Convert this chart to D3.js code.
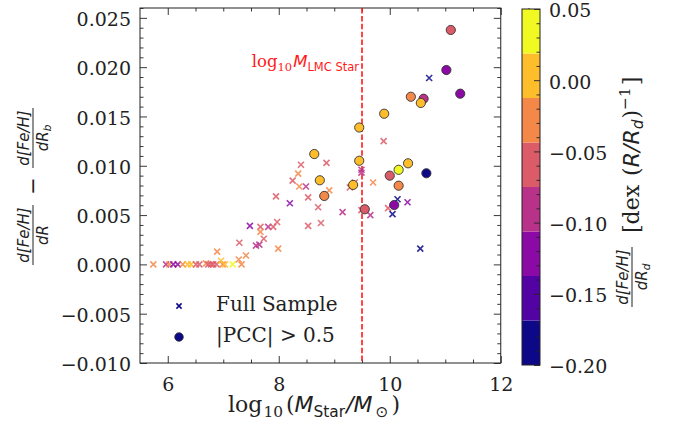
<!DOCTYPE html>
<html><head><meta charset="utf-8">
<script src="https://cdn.jsdelivr.net/npm/d3@7"></script>
<style>body{margin:0;background:#fff}svg{display:block}</style>
</head><body><svg id="c" width="676" height="428"></svg>
<script>
// ---------- data ----------
// Full sample (crosses): stellar mass, gradient difference, colour value d[Fe/H]/dR_d
const sampleMass = [5.74,5.97,6.03,6.10,6.18,6.27,6.36,6.42,6.51,6.57,6.69,6.73,6.78,6.82,6.88,6.99,7.03,7.17,7.33,
  6.89,6.96,7.28,7.41,7.29,7.59,7.65,7.73,7.48,7.67,7.67,7.81,7.90,7.97,7.99,7.95,8.20,8.25,8.37,8.49,8.53,8.71,8.53,8.76,8.91,
  8.40,8.86,8.35,9.49,9.49,9.89,9.37,9.28,9.70,9.15,9.49,9.65,9.97,10.14,10.32,10.05,10.55,10.71];
const sampleDiff = [0,0,0,0,0,0,0,0,0,0,0.0001,0,0,0,0,0,0,0,0,
  0.0013,0.00037,0.0005,0.0009,0.0022,0.0019,0.0020,0.0026,0.0039,0.0038,0.0033,0.0038,0.0038,0.0043,0.0016,0.0069,0.0062,0.0085,0.0079,0.0079,0.0068,0.0058,0.0039,0.0042,0.0075,
  0.0101,0.0103,0.0092,0.0096,0.0093,0.0125,0.0083,0.0078,0.0083,0.0053,0.0055,0.0050,0.0057,0.0066,0.0063,0.0051,0.0016,0.0189];
const sampleGrad = [-0.03,-0.09,-0.03,-0.12,-0.12,-0.03,0.00,0.00,-0.06,-0.06,-0.03,-0.06,-0.06,-0.06,-0.06,-0.03,0.00,0.03,-0.03,
  -0.03,0.00,-0.03,-0.03,-0.06,-0.09,-0.09,-0.06,-0.12,-0.06,-0.03,-0.09,-0.06,-0.06,-0.03,-0.06,-0.12,-0.06,-0.03,-0.09,-0.06,-0.06,-0.06,-0.06,-0.03,
  -0.06,-0.06,-0.03,-0.09,-0.09,-0.06,-0.06,-0.06,-0.03,-0.09,-0.06,-0.09,-0.06,-0.19,-0.12,-0.19,-0.19,-0.19];
// |PCC| > 0.5 (circles)
const pccMass = [8.64,8.74,8.82,9.34,9.45,9.45,9.55,9.90,10.00,10.16,10.33,10.16,10.08,10.66,11.10,11.02,11.27,10.38,10.61,10.56];
const pccDiff = [0.01119,0.00853,0.00694,0.00806,0.01051,0.01388,0.00559,0.01528,0.00900,0.00959,0.01025,0.00798,0.00602,0.00924,0.02377,0.01971,0.01731,0.01700,0.01680,0.01637];
const pccGrad = [0.00,0.00,-0.03,0.00,0.00,0.00,-0.06,0.00,-0.06,0.03,0.00,-0.03,-0.12,-0.19,-0.06,-0.12,-0.12,-0.03,-0.09,0.00];
const lmcMass = 9.5;
const xMajorTicks = [6,8,10,12];
const yMajorTicks = [-0.010,-0.005,0.000,0.005,0.010,0.015,0.020,0.025];
const cbarTicks = [-0.20,-0.15,-0.10,-0.05,0.00,0.05];
const legendLabels = ["Full Sample","|PCC| > 0.5"];

// ---------- layout ----------
const L=140, R=500.75, T=8, B=363;
const svg = d3.select("#c");
const x = d3.scaleLinear().domain([5.5,12]).range([L,R]);
const y = d3.scaleLinear().domain([-0.010,0.026]).range([B,T]);
const nBins = 8;
const col = d3.scaleQuantize().domain([-0.20,0.05]).range(d3.range(nBins).map(i=>d3.interpolatePlasma(i/(nBins-1))));
const SERIF = "'DejaVu Serif', serif", SANS = "'DejaVu Sans', sans-serif";
const ink = "#222";
const minus = s => s.replace("-","\u2212");

const xMinor = d3.range(12,26).map(i=>i/2).filter(v=>!xMajorTicks.includes(v));
const yMinor = d3.range(-10,27).map(i=>i/1000).filter(v=>!yMajorTicks.some(t=>Math.abs(t-v)<1e-9));

function styleAxis(g){
  g.select(".domain").remove();
  g.selectAll(".tick line").attr("stroke",ink).attr("stroke-width",0.9);
  g.selectAll("text").attr("font-family",SERIF).attr("font-size",19).attr("fill",ink);
}
// bottom
svg.append("g").attr("transform",`translate(0,${B})`)
  .call(d3.axisBottom(x).tickValues(xMajorTicks).tickFormat(d3.format("d")).tickSize(-7).tickPadding(14.5))
  .call(styleAxis);
svg.append("g").attr("transform",`translate(0,${B})`)
  .call(d3.axisBottom(x).tickValues(xMinor).tickFormat("").tickSize(-3.5)).call(styleAxis);
// top
svg.append("g").attr("transform",`translate(0,${T})`)
  .call(d3.axisTop(x).tickValues(xMajorTicks).tickFormat("").tickSize(-7)).call(styleAxis);
svg.append("g").attr("transform",`translate(0,${T})`)
  .call(d3.axisTop(x).tickValues(xMinor).tickFormat("").tickSize(-3.5)).call(styleAxis);
// left
svg.append("g").attr("transform",`translate(${L},0)`)
  .call(d3.axisLeft(y).tickValues(yMajorTicks).tickFormat(d=>minus(d3.format(".3f")(d))).tickSize(-7).tickPadding(9))
  .call(styleAxis).call(g=>g.selectAll("text").attr("dy","0.40em"));
svg.append("g").attr("transform",`translate(${L},0)`)
  .call(d3.axisLeft(y).tickValues(yMinor).tickFormat("").tickSize(-3.5)).call(styleAxis);
// right
svg.append("g").attr("transform",`translate(${R},0)`)
  .call(d3.axisRight(y).tickValues(yMajorTicks).tickFormat("").tickSize(-7)).call(styleAxis);
svg.append("g").attr("transform",`translate(${R},0)`)
  .call(d3.axisRight(y).tickValues(yMinor).tickFormat("").tickSize(-3.5)).call(styleAxis);

// frame
svg.append("rect").attr("x",L).attr("y",T).attr("width",R-L).attr("height",B-T)
  .attr("fill","none").attr("stroke",ink).attr("stroke-width",1);

// LMC line
svg.append("line").attr("x1",x(lmcMass)).attr("x2",x(lmcMass)).attr("y1",T).attr("y2",B)
  .attr("stroke","#ff1a1a").attr("stroke-width",1.6).attr("stroke-dasharray","5.5,2.4");
const lt = svg.append("text").attr("x",x(lmcMass)-3).attr("y",67).attr("text-anchor","end")
  .attr("fill","#ff1a1a").attr("font-size",16.5);
lt.append("tspan").attr("font-family",SERIF).text("log");
lt.append("tspan").attr("font-family",SERIF).attr("font-size",11.5).attr("dy",3.5).text("10");
lt.append("tspan").attr("font-family",SANS).attr("font-style","italic").attr("dy",-3.5).attr("dx",1).text("M");
lt.append("tspan").attr("font-family",SANS).attr("font-size",11.5).attr("dy",3.5).text("LMC Star");

// crosses
const sample = sampleMass.map((m,i)=>({m, d:sampleDiff[i], g:sampleGrad[i]}));
const crossPath = "M-3,-3L3,3M-3,3L3,-3";
svg.append("g").selectAll("path").data(sample).join("path")
  .attr("transform",d=>`translate(${x(d.m)},${y(d.d)})`)
  .attr("d",crossPath).attr("fill","none")
  .attr("stroke",d=>col(d.g)).attr("stroke-width",1.6).attr("stroke-opacity",0.85);

// circles
const pcc = pccMass.map((m,i)=>({m, d:pccDiff[i], g:pccGrad[i]}));
svg.append("g").selectAll("circle").data(pcc).join("circle")
  .attr("cx",d=>x(d.m)).attr("cy",d=>y(d.d)).attr("r",4.6)
  .attr("fill",d=>col(d.g)).attr("stroke","#333").attr("stroke-width",0.9);

// legend
const navy = col(-0.19);
svg.append("path").attr("transform","translate(179,306)").attr("d","M-2.6,-2.6L2.6,2.6M-2.6,2.6L2.6,-2.6")
  .attr("stroke",navy).attr("stroke-width",1.5).attr("fill","none");
svg.append("circle").attr("cx",179).attr("cy",337).attr("r",4.3).attr("fill",navy).attr("stroke","#333").attr("stroke-width",0.8);
svg.selectAll("text.leg").data(legendLabels).join("text").attr("class","leg")
  .attr("x",216).attr("y",(d,i)=>[311,342][i]).attr("font-family",SERIF).attr("font-size",20).attr("fill",ink)
  .text(d=>d);

// x label
const xl = svg.append("text").attr("x",228).attr("y",412).attr("font-size",22).attr("fill",ink);
xl.append("tspan").attr("font-family",SERIF).text("log");
xl.append("tspan").attr("font-family",SERIF).attr("font-size",15.4).attr("dy",4.5).attr("dx",1).text("10");
xl.append("tspan").attr("font-family",SERIF).attr("dy",-4.5).attr("dx",3).text("(");
xl.append("tspan").attr("font-family",SANS).attr("font-style","italic").text("M");
xl.append("tspan").attr("font-family",SANS).attr("font-size",15.4).attr("dy",4.5).text("Star");
xl.append("tspan").attr("font-family",SANS).attr("font-style","italic").attr("dy",-4.5).attr("dx",1).text("/M");
xl.append("tspan").attr("font-family",SANS).attr("font-size",15.4).attr("dy",4.5).attr("dx",3).text("\u2299");
xl.append("tspan").attr("font-family",SERIF).attr("dy",-4.5).attr("dx",3).text(")");

// rotated fraction helper
function frac(g, cx, num, den, sub, fs, half){
  g.append("line").attr("x1",cx-half).attr("x2",cx+half).attr("y1",0).attr("y2",0).attr("stroke",ink).attr("stroke-width",1);
  g.append("text").attr("x",cx).attr("y",-4).attr("text-anchor","middle").attr("font-family",SANS)
    .attr("font-style","italic").attr("font-size",fs).attr("fill",ink).text(num);
  const t = g.append("text").attr("x",cx).attr("y",15).attr("text-anchor","middle").attr("font-family",SANS)
    .attr("font-style","italic").attr("font-size",fs).attr("fill",ink);
  t.append("tspan").text(den);
  if(sub) t.append("tspan").attr("font-size",fs*0.7).attr("dy",3).text(sub);
}
// y label
const yl = svg.append("g").attr("transform","translate(33,187) rotate(-90)");
frac(yl,-48,"d[Fe/H]","dR","",15,30);
yl.append("text").attr("x",1).attr("y",7).attr("text-anchor","middle").attr("font-family",SANS).attr("font-size",21).attr("fill",ink).text("\u2212");
frac(yl,49,"d[Fe/H]","dR","b",15,30);

// colorbar
const cbL=522, cbW=18;
const cy = d3.scaleLinear().domain([-0.20,0.05]).range([365,9]);
const binW = 0.25/nBins;
const bins = d3.range(nBins).map(i=>-0.20+i*binW);
svg.append("g").selectAll("rect").data(bins).join("rect")
  .attr("x",cbL).attr("width",cbW).attr("y",d=>cy(d+binW)).attr("height",d=>cy(d)-cy(d+binW))
  .attr("fill",d=>col(d+binW/2));
const cbMinor = d3.range(-20,6).map(i=>i/100).filter(v=>!cbarTicks.some(t=>Math.abs(t-v)<1e-9));
svg.append("g").attr("transform",`translate(${cbL+cbW},0)`)
  .call(d3.axisRight(cy).tickValues(cbarTicks).tickFormat(d=>minus(d3.format(".2f")(d))).tickSize(-6).tickPadding(9))
  .call(styleAxis).call(g=>g.selectAll("text").attr("dy","0.42em"));
svg.append("g").attr("transform",`translate(${cbL+cbW},0)`)
  .call(d3.axisRight(cy).tickValues(cbMinor).tickFormat("").tickSize(-3.5)).call(styleAxis);
svg.append("rect").attr("x",cbL).attr("y",cy(0.05)).attr("width",cbW).attr("height",cy(-0.20)-cy(0.05))
  .attr("fill","none").attr("stroke",ink).attr("stroke-width",1);

// colorbar label
const cl = svg.append("g").attr("transform","translate(632,187) rotate(-90)");
frac(cl,-90,"d[Fe/H]","dR","d",15,30);
const ct = cl.append("text").attr("x",-46).attr("y",7).attr("font-size",22).attr("fill",ink);
ct.append("tspan").attr("font-family",SERIF).text("[dex ");
ct.append("tspan").attr("font-family",SERIF).attr("dx",2).text("(");
ct.append("tspan").attr("font-family",SANS).attr("font-style","italic").text("R/R");
ct.append("tspan").attr("font-family",SANS).attr("font-style","italic").attr("font-size",15.4).attr("dy",4).text("d");
ct.append("tspan").attr("font-family",SERIF).attr("dy",-4).attr("dx",1).text(")");
ct.append("tspan").attr("font-family",SERIF).attr("font-size",15.4).attr("dy",-9).text("\u22121");
ct.append("tspan").attr("font-family",SERIF).attr("dy",9).attr("dx",2).text("]");
</script></body></html>
